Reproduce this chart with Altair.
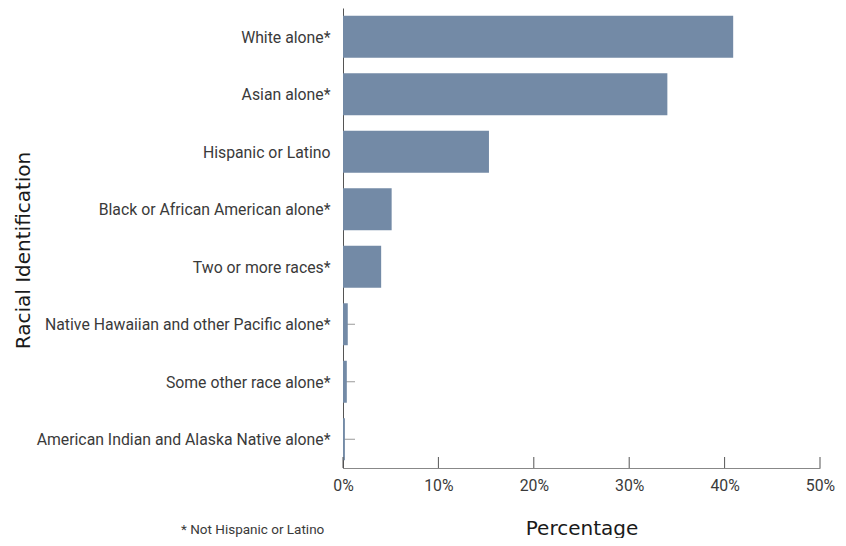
import altair as alt
import pandas as pd

categories = [
    "White alone*",
    "Asian alone*",
    "Hispanic or Latino",
    "Black or African American alone*",
    "Two or more races*",
    "Native Hawaiian and other Pacific alone*",
    "Some other race alone*",
    "American Indian and Alaska Native alone*",
]
values = [40.9, 34.0, 15.3, 5.1, 4.0, 0.5, 0.4, 0.2]
x_ticks = [0, 10, 20, 30, 40, 50]
footnote = "* Not Hispanic or Latino"

df = pd.DataFrame({"cat": categories, "pct": values})
ticks_df = pd.DataFrame({"t": x_ticks})
note_df = pd.DataFrame({"note": [footnote]})

LABEL_FONT = "Roboto"
TITLE_FONT = "DejaVu Sans"

y_enc = alt.Y(
    "cat:N",
    sort=categories,
    scale=alt.Scale(paddingInner=0.27, paddingOuter=0.135),
    axis=alt.Axis(
        title="Racial Identification",
        ticks=False,
        domainColor="#555555",
        domainWidth=1,
        labelPadding=13,
        labelLimit=400,
        labelFont=LABEL_FONT,
        labelFontSize=15.8,
        labelColor="#3a3a3a",
        labelBaseline="alphabetic",
        labelOffset=6,
        titleFont=TITLE_FONT,
        titleFontSize=20,
        titleFontWeight="normal",
        titleColor="#1a1a1a",
        titleX=-314,
        titleY=242,
        titleAlign="center",
        titleBaseline="alphabetic",
        titleAngle=270,
    ),
)

x_scale = alt.Scale(domain=[0, 50], nice=False)

bars = alt.Chart(df).mark_bar(color="#738aa6").encode(
    x=alt.X(
        "pct:Q",
        scale=x_scale,
        axis=alt.Axis(
            title="Percentage",
            values=x_ticks,
            ticks=False,
            grid=False,
            domainColor="#888888",
            labelPadding=10,
            labelFlush=False,
            labelFont=LABEL_FONT,
            labelFontSize=15.8,
            labelColor="#3a3a3a",
            labelExpr="datum.value + '%'",
            titleFont=TITLE_FONT,
            titleFontSize=20,
            titleFontWeight="normal",
            titleColor="#1a1a1a",
            titleY=66,
            titleBaseline="alphabetic",
        ),
    ),
    y=y_enc,
)

ytick_rules = alt.Chart(df).mark_rule(color="#9a9a9a", strokeWidth=1).encode(
    x=alt.value(0),
    x2=alt.value(12),
    y=alt.Y("cat:N", sort=categories),
)

xtick_rules = alt.Chart(ticks_df).mark_rule(color="#555555", strokeWidth=1).encode(
    x=alt.X("t:Q", scale=x_scale),
    y=alt.value(449),
    y2=alt.value(460),
)

note = alt.Chart(note_df).mark_text(
    align="left", baseline="alphabetic", font=LABEL_FONT, fontSize=13.5, color="#3a3a3a"
).encode(
    x=alt.value(-162),
    y=alt.value(526),
    text="note:N",
)

chart = (
    alt.layer(ytick_rules, bars, xtick_rules, note)
    .properties(
        width=477,
        height=460,
        autosize=alt.AutoSizeParams(type="none"),
        padding={"left": 335, "top": 0, "right": 18, "bottom": 70},
    )
    .configure_view(stroke=None)
)

chart.save("out.html", embed_options={"renderer": "svg", "actions": False})
